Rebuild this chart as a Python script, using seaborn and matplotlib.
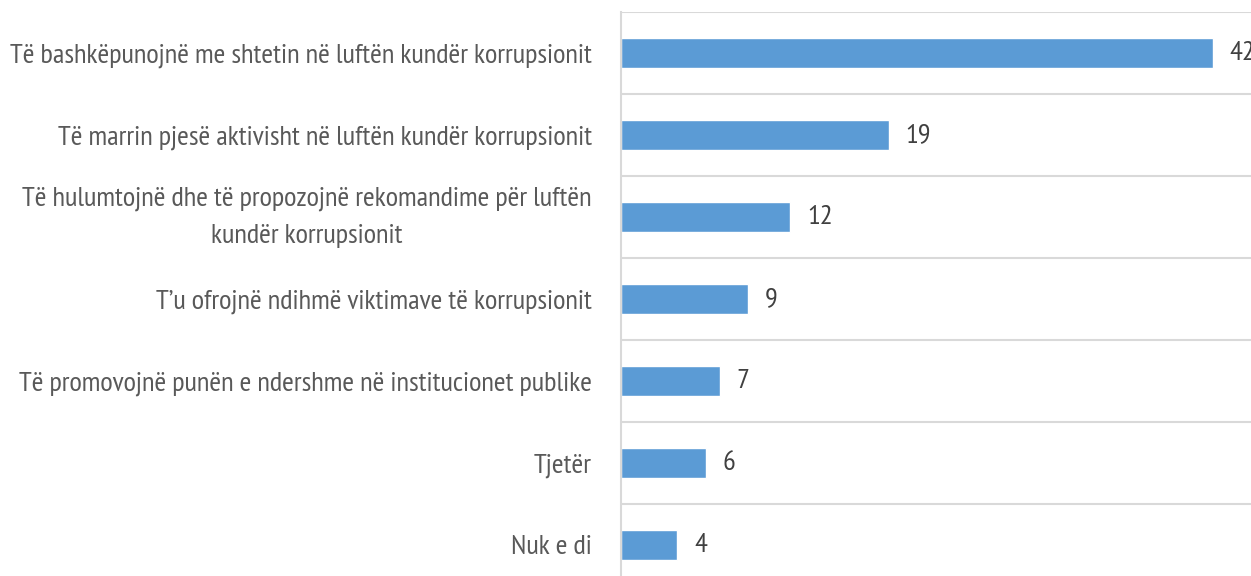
import matplotlib
matplotlib.use("Agg")
import matplotlib.pyplot as plt
import matplotlib.transforms as mtransforms
import seaborn as sns
import pandas as pd

categories = [
    "Të bashkëpunojnë me shtetin në luftën kundër korrupsionit",
    "Të marrin pjesë aktivisht në luftën kundër korrupsionit",
    "Të hulumtojnë dhe të propozojnë rekomandime për luftën\nkundër korrupsionit",
    "T’u ofrojnë ndihmë viktimave të korrupsionit",
    "Të promovojnë punën e ndershme në institucionet publike",
    "Tjetër",
    "Nuk e di",
]
values = [42, 19, 12, 9, 7, 6, 4]

sns.set_theme(style="white")
plt.rcParams["font.family"] = ["PT Sans Narrow", "DejaVu Sans"]

BAR = "#5B9BD5"
GRID = "#D9D9D9"
LABEL = "#595959"
VALUE = "#404040"

W, H = 1251, 576
fig = plt.figure(figsize=(W / 100, H / 100), dpi=100)
# axes runs past the right and bottom edges of the canvas
left, top, bottom = 621, 12, 586
right = left + 46 * 14.1
ax = fig.add_axes([left / W, 1 - bottom / H, (right - left) / W, (bottom - top) / H])

df = pd.DataFrame({"category": categories, "value": values})
sns.barplot(data=df, x="value", y="category", orient="h", color=BAR,
            width=0.355, saturation=1, ax=ax)

ax.set_xlim(0, 46)
ax.set_ylim(len(categories) - 0.5, -0.5)

# separators between categories
for i in range(len(categories) + 1):
    ax.axhline(i - 0.5, color=GRID, lw=1.5, zorder=0)

for s in ["top", "right", "bottom"]:
    ax.spines[s].set_visible(False)
ax.spines["left"].set_color(GRID)
ax.spines["left"].set_linewidth(1.5)

ax.set_xticks([])
ax.set_xlabel("")
ax.set_ylabel("")
ax.tick_params(axis="y", length=0, pad=21)
for t in ax.get_yticklabels():
    t.set_fontsize(20.5)
    t.set_color(LABEL)
    t.set_multialignment("center")
    t.set_linespacing(1.7)
    if "\n" in t.get_text():
        # centre the two-line label on its bar
        t.set_transform(t.get_transform() +
                        mtransforms.ScaledTranslation(0, 0.09, fig.dpi_scale_trans))

for c in ax.containers:
    ax.bar_label(c, labels=[f"{v:g}" for v in values], padding=12,
                 fontsize=20.5, color=VALUE)

fig.savefig("out.png", dpi=100)
